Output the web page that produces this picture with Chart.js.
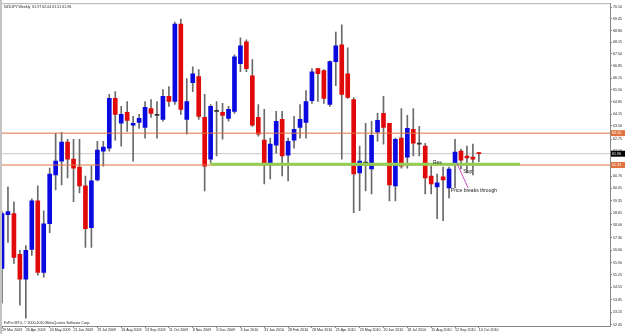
<!DOCTYPE html>
<html>
<head>
<meta charset="utf-8">
<script src="https://cdn.jsdelivr.net/npm/chart.js@4.4.1/dist/chart.umd.min.js"></script>
<style>
  html, body { margin: 0; padding: 0; background: #fff; }
  canvas { display: block; }
</style>
</head>
<body>
<canvas id="chart" width="625" height="334"></canvas>
<script>
// =======================
// DATA  (NZDJPY weekly, bar 0 = week of 29 Mar 2009)
// =======================
const opens = [
  55.59, 58.57, 58.63, 56.37, 54.99, 56.64, 59.34, 55.37, 58.07, 60.78,
  61.55, 62.60, 61.66, 61.22, 60.17, 57.85, 60.50, 62.10, 62.27, 65.03,
  63.65, 64.25, 63.54, 63.70, 63.42, 64.47, 64.09, 63.87, 65.14, 64.86,
  69.16, 63.87, 65.91, 66.24, 63.98, 61.66, 64.31, 64.25, 63.92, 64.31,
  66.96, 68.17, 66.29, 63.98, 62.71, 61.33, 62.43, 63.87, 61.88, 62.71,
  63.42, 63.70, 64.91, 66.68, 66.57, 64.69, 67.07, 68.00, 66.40, 64.97,
  60.89, 61.44, 61.11, 63.15, 64.20, 63.65, 60.17, 62.82, 61.77, 63.31,
  62.49, 62.38, 60.72, 60.12, 60.67, 60.06, 61.44, 62.10, 61.83, 61.77,
  61.97
];
const highs = [
  58.74, 60.12, 59.29, 56.59, 56.86, 59.45, 60.17, 58.79, 61.16, 63.09,
  63.15, 62.76, 62.76, 62.76, 60.72, 61.27, 62.65, 62.65, 65.25, 65.41,
  64.59, 64.86, 64.03, 64.14, 64.86, 64.97, 64.86, 65.52, 65.69, 69.27,
  69.44, 66.13, 66.79, 66.63, 65.25, 64.69, 64.86, 64.75, 64.59, 67.45,
  68.39, 68.28, 67.18, 64.69, 64.42, 62.82, 64.31, 64.31, 62.82, 64.03,
  64.69, 65.47, 66.68, 66.68, 66.63, 67.12, 68.72, 69.11, 67.84, 65.08,
  62.38, 63.65, 63.76, 64.20, 65.14, 63.65, 62.82, 64.47, 64.09, 64.47,
  63.48, 62.54, 61.27, 60.83, 61.22, 61.22, 62.76, 62.21, 62.38, 62.49,
  62.04
];
const lows = [
  53.66, 57.03, 55.87, 53.55, 52.83, 56.31, 55.21, 55.10, 57.58, 59.95,
  60.23, 60.61, 59.29, 59.78, 56.75, 56.75, 60.45, 61.27, 62.10, 62.71,
  62.38, 63.20, 61.55, 63.37, 62.82, 63.98, 62.82, 63.76, 64.59, 64.69,
  64.14, 63.04, 65.41, 63.87, 59.89, 61.44, 61.83, 62.76, 63.76, 64.20,
  66.51, 66.51, 63.48, 62.93, 60.28, 60.56, 61.99, 60.72, 60.45, 62.27,
  62.82, 62.82, 64.75, 64.86, 64.75, 64.59, 65.74, 61.66, 65.03, 58.68,
  58.79, 59.89, 59.73, 62.65, 62.49, 59.34, 59.34, 61.16, 61.16, 61.83,
  61.83, 59.73, 59.73, 58.35, 58.24, 59.51, 60.06, 61.11, 60.89, 60.78,
  61.51
];
const closes = [
  58.63, 58.74, 56.20, 54.99, 56.59, 59.34, 55.37, 58.07, 60.83, 61.55,
  62.60, 61.66, 61.16, 60.17, 57.80, 60.45, 62.16, 62.32, 65.03, 64.14,
  64.14, 63.81, 63.65, 63.92, 64.53, 64.20, 64.09, 65.14, 64.86, 69.16,
  64.42, 64.86, 66.40, 64.03, 61.27, 64.59, 64.31, 64.09, 64.42, 67.34,
  67.95, 66.68, 63.54, 63.04, 61.33, 62.49, 63.76, 61.83, 62.65, 63.31,
  63.87, 64.86, 66.51, 66.40, 65.03, 67.07, 67.95, 65.25, 65.08, 60.83,
  61.55, 61.44, 62.98, 63.81, 63.42, 60.23, 62.76, 61.27, 63.37, 62.54,
  62.49, 60.61, 60.28, 60.34, 60.50, 61.11, 62.05, 61.60, 61.72, 61.66,
  61.96
];

const dateLabels = [
  '29 Mar 2009', '26 Apr 2009', '24 May 2009', '21 Jun 2009', '19 Jul 2009',
  '16 Aug 2009', '13 Sep 2009', '11 Oct 2009', '8 Nov 2009', '6 Dec 2009',
  '3 Jan 2010', '31 Jan 2010', '28 Feb 2010', '28 Mar 2010', '25 Apr 2010',
  '23 May 2010', '20 Jun 2010', '18 Jul 2010', '15 Aug 2010', '12 Sep 2010',
  '10 Oct 2010'
];
const dateTickBars = [0, 4, 8, 12, 16, 20, 24, 28, 32, 36, 40, 44, 48, 52, 56, 60, 64, 68, 72, 76, 80];

const priceTicks = [
  70.10, 69.45, 68.80, 68.15, 67.50, 66.85, 66.15, 65.50, 64.85, 64.15,
  63.50, 62.75, 62.10, 61.40, 60.70, 60.05, 59.35, 58.65, 58.00, 57.30,
  56.60, 55.90, 55.25, 54.55, 53.85, 53.15, 52.45
];

// horizontal levels drawn on the chart
const resLevel = 63.10;   // upper orange line
const supLevel = 61.33;   // lower orange line
const bidPrice = 61.96;
const greenLevel = 61.37;
const greenFrom = 35, greenTo = 86.9;
const arrowFrom = { x: 76.3, y: 61.44 }, arrowTo = { x: 78.2, y: 60.06 };
const notes = [
  { text: 'Res', x: 72.3, y: 61.49 },
  { text: 'Sup', x: 77.4, y: 60.94 },
  { text: 'Price breaks through', x: 75.3, y: 59.89 }
];
const title = 'NZDJPY,Weekly  61.97 62.04 61.51 61.96';
const copyright = 'FxPro MT4, \u00A9 2000-2010 MetaQuotes Software Corp.';

// =======================
// BUILD DATASETS
// =======================
const BLUE = '#0a0ae0', RED = '#e00a0a', WICK = '#6a6a6a', ORANGE = '#e0733f';
const candleColor = opens.map((o, i) => closes[i] > o ? BLUE : (closes[i] < o ? RED : '#333'));
const bodies = opens.map((o, i) => ({ x: i, y: [o, closes[i]] }));
const wicks = lows.map((l, i) => ({ x: i, y: [l, highs[i]] }));
const hline = (v, a, b) => [{ x: a, y: v }, { x: b, y: v }];

const overlay = {
  id: 'overlay',
  beforeDraw(chart) {
    const { ctx, chartArea: a } = chart;
    ctx.save();
    ctx.fillStyle = '#fff';
    ctx.fillRect(0, 0, chart.width, chart.height);
    ctx.fillStyle = '#c4c4c4';
    ctx.fillRect(0, 0, 2, chart.height);
    ctx.strokeStyle = '#b0b0b0';
    ctx.lineWidth = 1;
    ctx.beginPath();
    ctx.moveTo(a.left, a.top + 0.5);
    ctx.lineTo(a.right, a.top + 0.5);
    ctx.stroke();
    ctx.restore();
  },
  afterDraw(chart) {
    const { ctx, chartArea: a } = chart;
    const xs = chart.scales.x, ys = chart.scales.y;
    ctx.save();
    ctx.fillStyle = '#222';
    ctx.textBaseline = 'middle';
    ctx.textAlign = 'left';
    ctx.font = '3.6px "Liberation Sans"';
    ctx.fillText(title, a.left + 2, a.top + 4);
    ctx.fillText(copyright, a.left + 2, a.bottom - 3);
    ctx.font = '5px "Liberation Sans"';
    notes.forEach(n => ctx.fillText(n.text, xs.getPixelForValue(n.x), ys.getPixelForValue(n.y)));
    // price boxes on the right axis
    ctx.font = '3.6px "Liberation Sans"';
    [[resLevel, ORANGE], [bidPrice, '#000'], [supLevel, ORANGE]].forEach(([v, c]) => {
      const py = ys.getPixelForValue(v);
      ctx.fillStyle = c;
      ctx.fillRect(a.right + 1, py - 3, 14, 6);
      ctx.fillStyle = '#fff';
      ctx.fillText(v.toFixed(2), a.right + 2, py);
    });
    ctx.restore();
  }
};

new Chart(document.getElementById('chart'), {
  type: 'bar',
  data: {
    datasets: [
      { type: 'line', data: hline(bidPrice, 0, 102), borderColor: '#c8c8c8', borderWidth: 1, pointRadius: 0, order: 3 },
      { data: wicks, backgroundColor: WICK, barThickness: 1, grouped: false, order: 2 },
      { data: bodies, backgroundColor: candleColor, barThickness: 4, minBarLength: 1, grouped: false, order: 1 },
      { type: 'line', data: hline(resLevel, 0, 102), borderColor: ORANGE, borderWidth: 1, pointRadius: 0, order: 0 },
      { type: 'line', data: hline(supLevel, 0, 102), borderColor: ORANGE, borderWidth: 1, pointRadius: 0, order: 0 },
      { type: 'line', data: hline(greenLevel, greenFrom, greenTo), borderColor: '#93cf55', borderWidth: 3, pointRadius: 0, order: -1 },
      { type: 'line', data: [arrowFrom, arrowTo], borderColor: '#c84cc8', borderWidth: 1, pointRadius: 0, order: -2 }
    ]
  },
  options: {
    responsive: false,
    animation: false,
    layout: { padding: { left: 2, top: 1, right: 0, bottom: 0 } },
    plugins: { legend: { display: false }, tooltip: { enabled: false } },
    scales: {
      x: {
        type: 'linear', min: 0, max: 102, offset: false,
        afterFit: s => { s.height = 8; },
        afterBuildTicks: s => { s.ticks = dateTickBars.map(v => ({ value: v })); },
        grid: { drawOnChartArea: false, tickLength: 2, color: '#888', offset: false },
        border: { color: '#888' },
        ticks: {
          autoSkip: false, maxRotation: 0, align: 'start', padding: 0,
          color: '#222', font: { size: 3.6, family: 'Liberation Sans' },
          callback: v => dateLabels[dateTickBars.indexOf(v)] || ''
        }
      },
      y: {
        position: 'right', min: 52.39, max: 70.32,
        afterFit: s => { s.width = 15; },
        afterBuildTicks: s => { s.ticks = priceTicks.map(v => ({ value: v })); },
        grid: { drawOnChartArea: false, tickLength: 2, color: '#888' },
        border: { color: '#888' },
        ticks: {
          padding: 1, color: '#222', font: { size: 3.6, family: 'Liberation Sans' },
          callback: v => v.toFixed(2)
        }
      }
    }
  },
  plugins: [overlay]
});
</script>
</body>
</html>
